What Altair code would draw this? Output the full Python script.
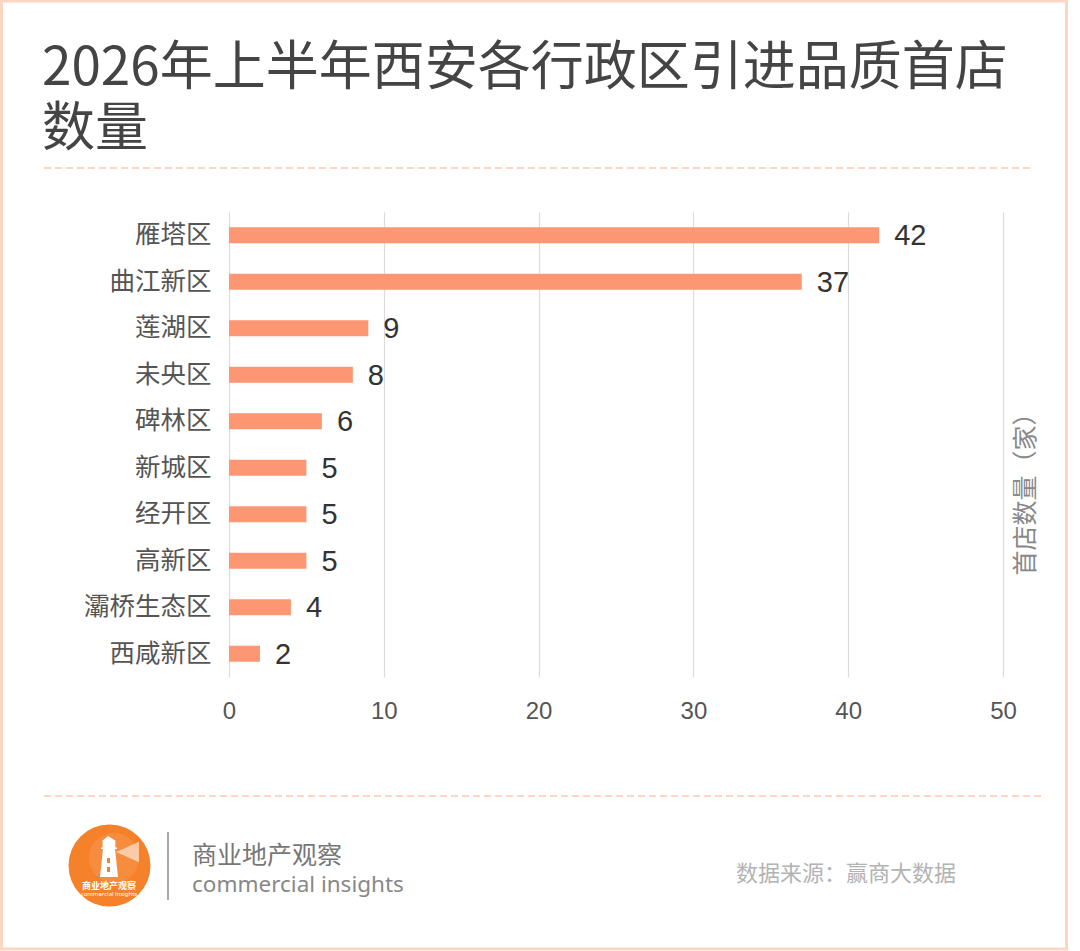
import altair as alt
import pandas as pd

# ---- data ----
districts = ["雁塔区", "曲江新区", "莲湖区", "未央区", "碑林区",
             "新城区", "经开区", "高新区", "灞桥生态区", "西咸新区"]
counts = [42, 37, 9, 8, 6, 5, 5, 5, 4, 2]
x_ticks = [0, 10, 20, 30, 40, 50]

title_line1 = "2026年上半年西安各行政区引进品质首店"
title_line2 = "数量"
axis_title = "首店数量（家）"
brand_cn = "商业地产观察"
brand_en = "commercial insights"
source_text = "数据来源：赢商大数据"

df = pd.DataFrame({"district": districts, "count": counts})

# ---- layout (plot area placed at left=229, top=212) ----
W, H = 774, 465
L, T = 229, 212
CANVAS_W, CANVAS_H = 1080, 951

CJK = "Noto Sans CJK SC"
LAT = "Liberation Sans"
BAR = "#fd9672"
PEACH = "#fcd6c3"


def px(x):
    return alt.value(x - L)


def py(y):
    return alt.value(y - T)


one = pd.DataFrame({"k": [0]})

base = alt.Chart(df)

bars = base.mark_bar(color=BAR).encode(
    x=alt.X("count:Q",
            scale=alt.Scale(domain=[0, 50], nice=False),
            axis=alt.Axis(values=x_ticks, title=None, grid=True,
                          gridColor="#dcdcdc", gridWidth=1.2,
                          domain=False, ticks=False, labelFlush=False,
                          labelFont=LAT, labelFontSize=24,
                          labelColor="#555555", labelPadding=22)),
    y=alt.Y("district:N", sort=districts,
            scale=alt.Scale(paddingInner=0.656, paddingOuter=0.328),
            axis=alt.Axis(title=None, domain=False, ticks=False, grid=False,
                          labelFont=CJK, labelFontSize=25.5,
                          labelColor="#555555", labelPadding=18)),
)

labels = base.mark_text(align="left", baseline="middle", dx=15, dy=1,
                        font=LAT, fontSize=29, color="#333333").encode(
    x="count:Q",
    y=alt.Y("district:N", sort=districts),
    text="count:Q",
)

deco = []

# outer frame
deco.append(alt.Chart(one).mark_rect(fill=None, stroke=PEACH, strokeWidth=3).encode(
    x=px(1.5), x2=px(1066.5), y=py(1), y2=py(949)))

# title
deco.append(alt.Chart(one).mark_text(text=title_line1, align="left", baseline="middle",
                                     font=CJK, fontSize=53, color="#444444").encode(
    x=px(42), y=py(69)))
deco.append(alt.Chart(one).mark_text(text=title_line2, align="left", baseline="middle",
                                     font=CJK, fontSize=53, color="#444444").encode(
    x=px(42), y=py(130)))

# dashed separators
deco.append(alt.Chart(one).mark_rule(stroke=PEACH, strokeWidth=2, strokeDash=[7, 4]).encode(
    x=px(44), x2=px(1030), y=py(168)))
deco.append(alt.Chart(one).mark_rule(stroke=PEACH, strokeWidth=2, strokeDash=[7, 4]).encode(
    x=px(44), x2=px(1045), y=py(796)))

# right axis title
deco.append(alt.Chart(one).mark_text(text=axis_title, align="center", baseline="middle",
                                     angle=270, font=CJK, fontSize=25,
                                     color="#888888").encode(
    x=px(1026), y=py(488)))

# logo circle
deco.append(alt.Chart(one).mark_point(shape="circle", filled=True, fill="#f5822b",
                                      opacity=1, size=82 * 82, strokeWidth=0).encode(
    x=px(109.5), y=py(865.5)))
deco.append(alt.Chart(one).mark_point(shape="circle", filled=True, fill="#f9a566",
                                      opacity=0.3, size=50 * 50, strokeWidth=0).encode(
    x=px(114), y=py(858)))
# light beam
deco.append(alt.Chart(one).mark_point(shape="M0,0L1,-0.45L1,0.45Z", filled=True,
                                      fill="#ffffff", opacity=0.55, size=46 * 46,
                                      strokeWidth=0).encode(
    x=px(116), y=py(852)))
# lighthouse
deco.append(alt.Chart(one).mark_point(
    shape=("M-0.05,-1.2L0.35,-0.95L-0.35,-0.95Z"
           "M-0.32,-0.95L0.32,-0.95L0.32,-0.62L-0.32,-0.62Z"
           "M-0.4,-0.62L0.4,-0.62L0.4,-0.55L-0.4,-0.55Z"
           "M-0.3,-0.55L0.3,-0.55L0.45,0.85L-0.45,0.85Z"),
    filled=True, fill="#ffffff", opacity=1, size=40 * 40, strokeWidth=0).encode(
    x=px(109), y=py(860)))
deco.append(alt.Chart(one).mark_rect(fill="#f5822b").encode(
    x=px(107), x2=px(110), y=py(858), y2=py(863)))
deco.append(alt.Chart(one).mark_rect(fill="#f5822b").encode(
    x=px(107), x2=px(110), y=py(867), y2=py(872)))
deco.append(alt.Chart(one).mark_text(text=brand_cn, align="center", baseline="middle",
                                     font=CJK, fontSize=9, fontWeight="bold",
                                     color="#ffffff").encode(
    x=px(109), y=py(886)))
deco.append(alt.Chart(one).mark_text(text=brand_en, align="center", baseline="middle",
                                     font="Noto Sans", fontSize=6,
                                     color="#ffffff").encode(
    x=px(109), y=py(894)))

# separator bar
deco.append(alt.Chart(one).mark_rule(stroke="#a9a9a9", strokeWidth=2).encode(
    x=px(168), y=py(832), y2=py(900)))

# brand text
deco.append(alt.Chart(one).mark_text(text=brand_cn, align="left", baseline="middle",
                                     font=CJK, fontSize=25, color="#777777").encode(
    x=px(192), y=py(856)))
deco.append(alt.Chart(one).mark_text(text=brand_en, align="left", baseline="alphabetic",
                                     font="Noto Sans", fontSize=22.5, color="#888888").encode(
    x=px(192), y=py(892)))

# source
deco.append(alt.Chart(one).mark_text(text=source_text, align="left", baseline="middle",
                                     font=CJK, fontSize=22, color="#b3b3b3").encode(
    x=px(736), y=py(874)))

chart = alt.layer(bars, labels, *deco).properties(
    width=W, height=H,
    padding={"left": L, "top": T, "right": CANVAS_W - L - W, "bottom": CANVAS_H - T - H},
    autosize=alt.AutoSizeParams(type="none"),
    background="#ffffff",
).configure_view(stroke=None)

chart.save("out.html", embed_options={"renderer": "svg", "actions": False})
